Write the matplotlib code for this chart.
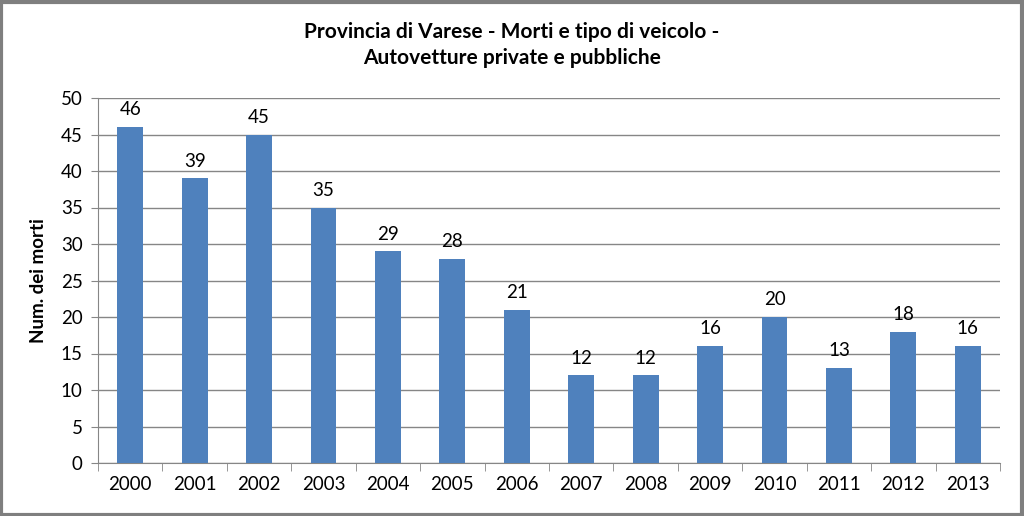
import matplotlib
matplotlib.use("Agg")
import matplotlib.pyplot as plt
import numpy as np
from matplotlib.patches import Rectangle

years = ["2000", "2001", "2002", "2003", "2004", "2005", "2006",
         "2007", "2008", "2009", "2010", "2011", "2012", "2013"]
deaths = [46, 39, 45, 35, 29, 28, 21, 12, 12, 16, 20, 13, 18, 16]
title = "Provincia di Varese - Morti e tipo di veicolo -\nAutovetture private e pubbliche"
ylabel = "Num. dei morti"

plt.rcParams['font.family'] = ['Lato', 'DejaVu Sans']

fig = plt.figure(figsize=(10.24, 5.16), dpi=100)
ax = fig.add_axes([98/1024, 1-463/516, (1000-98)/1024, (463-98)/516])

x = np.arange(len(years))
bars = ax.bar(x, deaths, width=0.4, color="#4F81BD", zorder=3)
for xi, v in zip(x, deaths):
    ax.text(xi, v + 1.2, str(v), ha="center", va="bottom", fontsize=13.5, color="black")

ax.set_xlim(-0.5, len(years) - 0.5)
ax.set_ylim(0, 50)
ax.set_yticks(range(0, 51, 5))
ax.set_xticks(x)
ax.set_xticklabels(years, fontsize=13.5)
ax.tick_params(axis='y', labelsize=13.5, length=5, color="#868686", pad=6)
ax.tick_params(axis='x', length=0, pad=9)
ax.set_xticks(np.arange(-0.5, len(years), 1), minor=True)
ax.tick_params(axis='x', which='minor', length=6, color="#868686")
ax.yaxis.grid(True, color="#868686", linewidth=1, zorder=0)
for s in ["top", "right"]:
    ax.spines[s].set_visible(False)
for s in ["left", "bottom"]:
    ax.spines[s].set_color("#868686")
ax.set_ylabel(ylabel, fontsize=13.5, fontweight="bold", labelpad=10)

fig.text(0.5, 1 - 45/516, title, ha="center", va="center", fontsize=15,
         fontweight="bold", linespacing=1.35)

fig.patches.append(Rectangle((0.001, 0.002), 0.997, 0.995, transform=fig.transFigure,
                             fill=False, edgecolor="#7f7f7f", linewidth=3))

fig.savefig("out.png", dpi=100)
